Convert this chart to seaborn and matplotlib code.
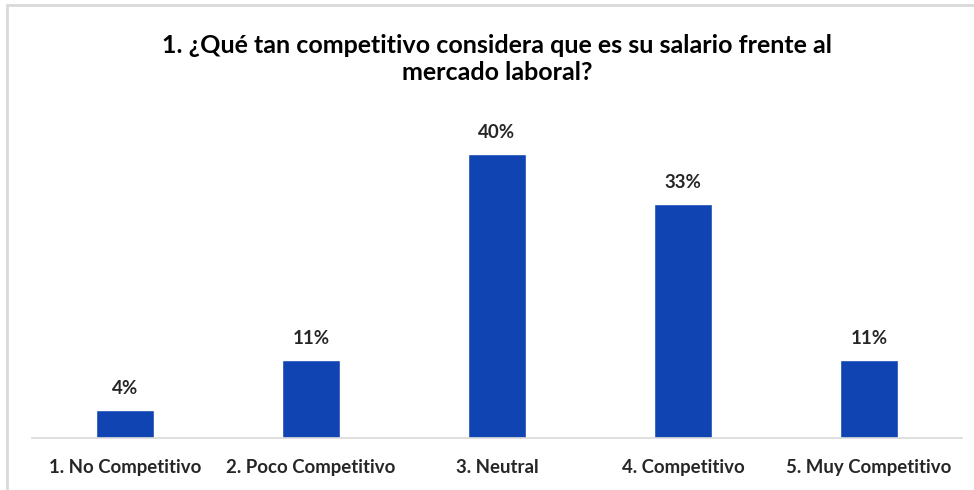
import matplotlib
matplotlib.use("Agg")
import matplotlib.pyplot as plt
from matplotlib.lines import Line2D
import seaborn as sns
import pandas as pd

categories = ["1. No Competitivo", "2. Poco Competitivo", "3. Neutral",
              "4. Competitivo", "5. Muy Competitivo"]
values = [4, 11, 40, 33, 11]
title = "1. ¿Qué tan competitivo considera que es su salario frente al\nmercado laboral?"

sns.set_theme(style="white")
plt.rcParams["font.family"] = ["Lato", "DejaVu Sans"]

df = pd.DataFrame({"categoria": categories, "porcentaje": values})

fig = plt.figure(figsize=(9.74, 4.90), dpi=100)
W, H = 974, 490
ax = fig.add_axes([32 / W, 1 - 438 / H, 930 / W, 320 / H])

sns.barplot(data=df, x="categoria", y="porcentaje", color="#0F44B2",
            saturation=1, width=0.31, ax=ax)
ax.set_ylim(0, 45.07)
ax.set_xlim(-0.5, len(categories) - 0.5)

for i, v in enumerate(values):
    ax.annotate(f"{v}%", (i, v), xytext=(0, 9), textcoords="offset points",
                ha="center", va="bottom", fontsize=13.5, fontweight="bold",
                color="#262626")

ax.set_xlabel("")
ax.set_ylabel("")
ax.set_yticks([])
ax.tick_params(axis="x", length=0, pad=15, labelsize=13.4, labelcolor="#262626")
for lab in ax.get_xticklabels():
    lab.set_fontweight("bold")
for s in ["top", "right", "left"]:
    ax.spines[s].set_visible(False)
ax.spines["bottom"].set_color("#D9D9D9")
ax.spines["bottom"].set_linewidth(1.2)

fig.text(497 / W, 1 - 59 / H, title, ha="center", va="center",
         fontsize=18, fontweight="bold", color="#000000", linespacing=1.2)

# Outer frame of the chart area (top and left edges)
fig.add_artist(Line2D([7 / W, 1], [1 - 5 / H, 1 - 5 / H], color="#D9D9D9",
                      lw=2, transform=fig.transFigure))
fig.add_artist(Line2D([7 / W, 7 / W], [0, 1 - 5 / H], color="#D9D9D9",
                      lw=2, transform=fig.transFigure))

fig.savefig("out.png", dpi=100, facecolor="white")
